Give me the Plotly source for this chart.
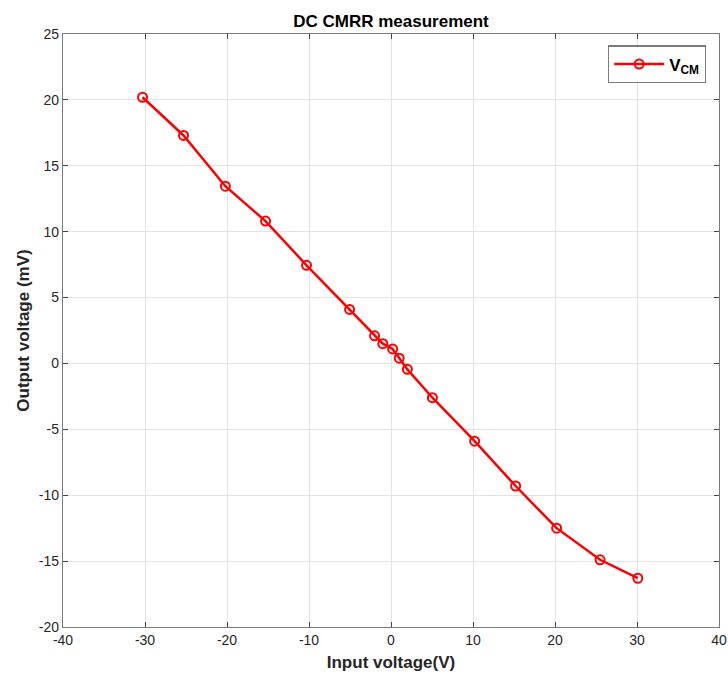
import plotly.graph_objects as go

# Measured DC common-mode sweep
input_v = [-30.3, -25.3, -20.2, -15.3, -10.3, -5.05, -2.0, -1.0, 0.2, 1.0, 2.0,
           5.05, 10.2, 15.2, 20.2, 25.5, 30.1]
output_mv = [20.2, 17.3, 13.45, 10.8, 7.45, 4.1, 2.1, 1.5, 1.1, 0.4, -0.45,
             -2.6, -5.9, -9.3, -12.5, -14.9, -16.3]

x_ticks = [-40, -30, -20, -10, 0, 10, 20, 30, 40]
y_ticks = [-20, -15, -10, -5, 0, 5, 10, 15, 20, 25]

FONT = "Liberation Sans, Arial, Helvetica"

fig = go.Figure()
fig.add_trace(go.Scatter(
    x=input_v, y=output_mv,
    mode="lines+markers",
    name="<b>V<sub>CM</sub></b>",
    line=dict(color="#ff0000", width=2.5),
    marker=dict(symbol="circle-open", size=9, color="#ff0000", line=dict(width=2)),
))

axis_common = dict(
    showgrid=True, gridcolor="#e3e3e3", gridwidth=1,
    zeroline=False, showline=True, linecolor="#7a7a7a", linewidth=1.3,
    mirror="ticks", ticks="inside", ticklen=5, tickcolor="#444444",
    tickfont=dict(family=FONT, size=14, color="#262626"),
    automargin=False, ticklabeloverflow="allow",
)

fig.update_layout(
    width=728, height=676,
    margin=dict(l=63, r=9, t=34, b=49),
    paper_bgcolor="#ffffff", plot_bgcolor="#ffffff",
    title=dict(text="<b>DC CMRR measurement</b>", x=(63 + 719) / 2 / 728, xanchor="center",
               y=0.969, yanchor="middle",
               font=dict(family=FONT, size=17, color="#000000")),
    xaxis=dict(range=[-40, 40], tickvals=x_ticks,
               ticktext=[str(v) for v in x_ticks],
               title=dict(text="<b>Input voltage(V)</b>", standoff=9,
                          font=dict(family=FONT, size=17, color="#262626")),
               **axis_common),
    yaxis=dict(range=[-20, 25], tickvals=y_ticks,
               ticktext=[str(v) for v in y_ticks],
               title=dict(text="<b>Output voltage (mV)</b>", standoff=4,
                          font=dict(family=FONT, size=17, color="#262626")),
               **axis_common),
    showlegend=True,
    legend=dict(x=0.98, y=0.981, xanchor="right", yanchor="top",
                bgcolor="#ffffff", bordercolor="#7a7a7a", borderwidth=1.3,
                itemwidth=50,
                font=dict(family=FONT, size=17, color="#000000")),
)

fig.write_html("out.html")
